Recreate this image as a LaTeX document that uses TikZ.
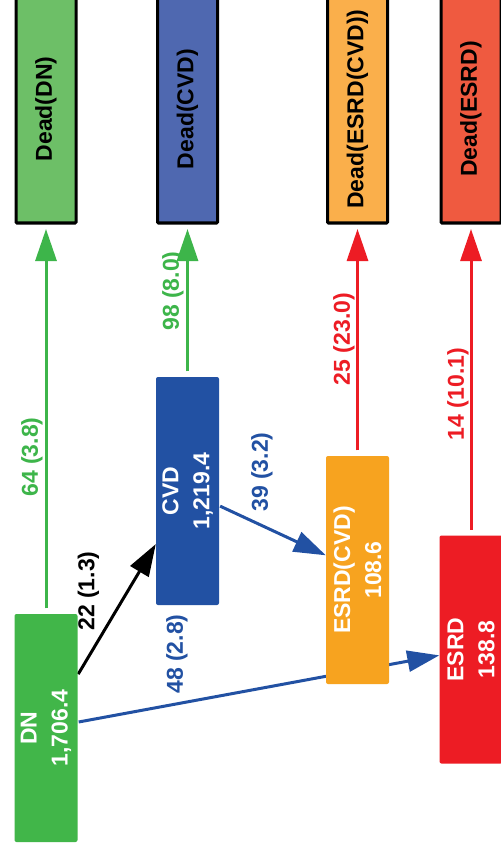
\documentclass[tikz,border=0pt]{standalone}
\usepackage{fontspec}
\setmainfont{Liberation Sans}
\usetikzlibrary{arrows.meta,backgrounds}

\definecolor{dngreen}{HTML}{41B649}
\definecolor{cvdblue}{HTML}{2251A3}
\definecolor{ecvdorange}{HTML}{F7A31F}
\definecolor{esrdred}{HTML}{ED1C24}
\definecolor{deadgreen}{HTML}{6DBF67}
\definecolor{deadblue}{HTML}{4F68B0}
\definecolor{deadorange}{HTML}{FAAF4B}
\definecolor{deadred}{HTML}{EF5A40}
\definecolor{arrgreen}{HTML}{3DB54A}

\begin{document}
\begin{tikzpicture}[
  x=1pt, y=-1pt,
  stbox/.style={rotate=90, rounded corners=2pt, minimum width=228pt, minimum height=63pt, inner sep=0pt, align=center, text=white, font=\fontsize{23}{31}\selectfont\bfseries},
  deadbox/.style={draw, line width=3pt, rounded corners=1pt, rotate=90, minimum width=228pt, minimum height=60pt, inner sep=0pt, font=\fontsize{23}{28}\selectfont\bfseries},
  lbl/.style={rotate=90, inner sep=0pt, font=\fontsize{23}{28}\selectfont\bfseries},
  arr/.style={-{Triangle[length=32pt,width=21pt]}, line width=3pt},
  uparr/.style={arr, shorten <=5.5pt, shorten >=4.5pt},
  sidearr/.style={arr, shorten <=1pt}
]
\useasboundingbox (0,0) rectangle (500,850);

% states
\node[stbox, fill=dngreen] (DN) at (46,728) {DN\\1,706.4};
\node[stbox, fill=cvdblue] (CVD) at (187.5,491) {CVD\\1,219.4};
\node[stbox, fill=ecvdorange] (ESRDCVD) at (357.5,570) {ESRD(CVD)\\108.6};
\node[stbox, fill=esrdred] (ESRD) at (471,649.5) {ESRD\\138.8};

% deaths
\node[deadbox, fill=deadgreen] (deadDN) at (46,109) {Dead(DN)};
\node[deadbox, fill=deadblue] (deadCVD) at (187.5,109) {Dead(CVD)};
\node[deadbox, fill=deadorange] (deadESRDCVD) at (357.5,109) {Dead(ESRD(CVD))};
\node[deadbox, fill=deadred] (deadESRD) at (471,109) {Dead(ESRD)};

% labels
\node[lbl, text=arrgreen] (l64) at (32,457) {64 (3.8)};
\node[lbl, text=arrgreen] (l98) at (173,291) {98 (8.0)};
\node[lbl, text=black] (l22) at (88.5,591) {22 (1.3)};
\node[lbl, text=cvdblue] (l48) at (177,654) {48 (2.8)};
\node[lbl, text=cvdblue] (l39) at (262,472) {39 (3.2)};
\node[lbl, text=esrdred] (l25) at (344,339) {25 (23.0)};
\node[lbl, text=esrdred] (l14) at (458,394) {14 (10.1)};

\begin{scope}[on background layer]
\fill[white] (0,0) rectangle (500,850);
\draw[uparr, arrgreen] (DN) -- (deadDN);
\draw[uparr, arrgreen] (CVD) -- (deadCVD);
\draw[uparr, esrdred] (ESRDCVD) -- (deadESRDCVD);
\draw[uparr, esrdred] (ESRD) -- (deadESRD);

\draw[sidearr, black] (DN) -- (CVD);
\draw[sidearr, cvdblue] (CVD) -- (ESRDCVD);
\draw[sidearr, cvdblue] (DN) -- (ESRD);
\end{scope}

\end{tikzpicture}
\end{document}
